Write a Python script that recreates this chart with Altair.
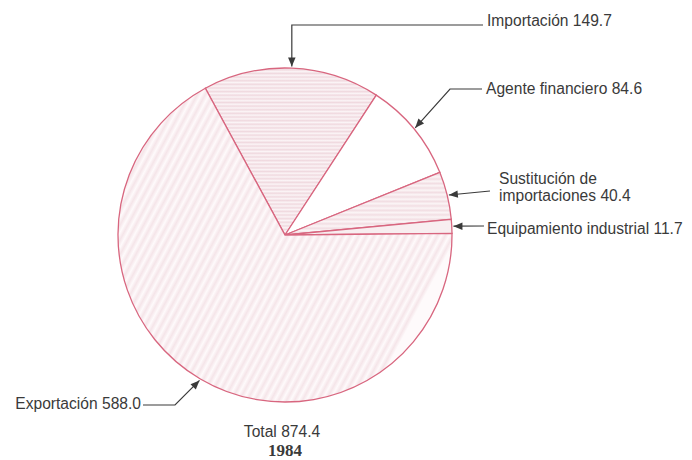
import math
import altair as alt
import pandas as pd

# ---- data ----
categories = ["Importación", "Agente financiero", "Sustitución de importaciones",
              "Equipamiento industrial", "Exportación"]
values = [149.7, 84.6, 40.4, 11.7, 588.0]
label_lines = [["Importación 149.7"], ["Agente financiero 84.6"],
               ["Sustitución de", "importaciones 40.4"],
               ["Equipamiento industrial 11.7"], ["Exportación 588.0"]]
total_label = "Total 874.4"
year_label = "1984"

# ---- style / layout ----
fills = ["#f4e4e8", "#ffffff", "#f5e8eb", "#f8eef0", "#f8eef0"]
stroke_col = "#d8667f"
ink = "#3a3a3a"
W, H = 676, 452
CX, CY = 277, 227          # pie centre inside the view (px)
R = 167                    # pie radius (px)
START_DEG = -28.5
OFF = 8                    # page margin
FS = 15.6


def stripes(n, c1, c2, x1, y1, x2, y2):
    stops = []
    for k in range(n):
        stops.append({"offset": k / n, "color": c1})
        stops.append({"offset": (k + 0.5) / n, "color": c2})
    stops.append({"offset": 1.0, "color": c1})
    return {"gradient": "linear", "stops": stops, "x1": x1, "y1": y1, "x2": x2, "y2": y2}


grad_exp = stripes(53, "#fefafb", "#f5e5e9", 0, 0, 1, 0.5)
grad_imp = stripes(46, "#fbf4f6", "#f0d9df", 0, 0, 0, 1)
grad_sus = stripes(14, "#fbf5f6", "#f2dee3", 0, 0, 0, 1)


def d(px, py):
    """page pixel -> data units"""
    return ((px - OFF - CX) / R, (CY - (py - OFF)) / R)


xdom = [-CX / R, (W - CX) / R]
ydom = [-(H - CY) / R, CY / R]
xs = alt.Scale(domain=xdom, nice=False, zero=False)
ys = alt.Scale(domain=ydom, nice=False, zero=False)

# elbows of leader lines (page px); None x -> same x as tip
elbows = [[(None, 25), (483, 25)],
          [(450, 89), (482, 89)],
          [(490, 191)],
          [(484, 226)],
          [(175, 405), (143, 405)]]
text_pos = [[(487, 26)], [(486, 94)], [(499, 184), (499, 201)],
            [(487, 234)], [(141, 409)]]
text_align = ["left", "left", "left", "left", "right"]

total = sum(values)
pie_df = pd.DataFrame({"cat": categories, "value": values,
                       "idx": list(range(len(values)))})

line_rows, arrow_rows, text_rows = [], [], []
cum = 0.0
for i, v in enumerate(values):
    mid = math.radians(START_DEG + 360.0 * (cum + v / 2) / total)
    cum += v
    tx, ty = 1.01 * math.sin(mid), 1.01 * math.cos(mid)
    pts = [(tx, ty)]
    for ex, ey in elbows[i]:
        if ex is None:
            pts.append((tx, d(0, ey)[1]))
        else:
            pts.append(d(ex, ey))
    for k, (x, y) in enumerate(pts):
        line_rows.append({"grp": i, "seq": k, "x": x, "y": y})
    ax, ay = pts[1]
    dx, dy = tx - ax, ty - ay
    n = math.hypot(dx, dy)
    ang = math.degrees(math.atan2(dx, dy)) % 360
    back = 5.0 / R
    arrow_rows.append({"x": tx - dx / n * back, "y": ty - dy / n * back, "angle": ang})
    for (px, py), t in zip(text_pos[i], label_lines[i]):
        x, y = d(px, py)
        text_rows.append({"x": x, "y": y, "text": t, "align": text_align[i]})

line_df = pd.DataFrame(line_rows)
arrow_df = pd.DataFrame(arrow_rows)
text_df = pd.DataFrame(text_rows)
tx0, ty0 = d(282, 437)
tx1, ty1 = d(285, 456)
foot_df = pd.DataFrame({"x": [tx0], "y": [ty0], "text": [total_label]})
year_df = pd.DataFrame({"x": [tx1], "y": [ty1], "text": [year_label]})

pie = alt.Chart(pie_df).mark_arc(radius=R, stroke=stroke_col, strokeWidth=1.3).encode(
    x=alt.XDatum(0, scale=xs, axis=None),
    y=alt.YDatum(0, scale=ys, axis=None),
    theta=alt.Theta("value:Q", stack=True,
                    scale=alt.Scale(range=[math.radians(START_DEG),
                                           math.radians(START_DEG) + 2 * math.pi])),
    order=alt.Order("idx:Q"),
    color=alt.Color("cat:N", scale=alt.Scale(domain=categories, range=fills), legend=None,
                    condition=[
                        {"test": "datum.cat === 'Exportación'", "value": grad_exp},
                        {"test": "datum.cat === 'Importación'", "value": grad_imp},
                        {"test": "datum.cat === 'Sustitución de importaciones'", "value": grad_sus},
                    ]),
)

lines = alt.Chart(line_df).mark_line(color=ink, strokeWidth=1.2).encode(
    x=alt.X("x:Q", scale=xs, axis=None),
    y=alt.Y("y:Q", scale=ys, axis=None),
    detail="grp:N",
    order="seq:Q",
)

arrows = alt.Chart(arrow_df).mark_point(
    shape="M0,-1L-0.75,0.8L0.75,0.8Z", filled=True, size=100, color=ink, opacity=1
).encode(
    x=alt.X("x:Q", scale=xs, axis=None),
    y=alt.Y("y:Q", scale=ys, axis=None),
    angle=alt.Angle("angle:Q", scale=None),
)


def text_layer(df, align, size=FS, font="Liberation Sans", weight="normal"):
    return alt.Chart(df).mark_text(align=align, baseline="alphabetic", font=font,
                                   fontSize=size, fontWeight=weight, color=ink).encode(
        x=alt.X("x:Q", scale=xs, axis=None),
        y=alt.Y("y:Q", scale=ys, axis=None),
        text="text:N",
    )


t_left = text_layer(text_df[text_df["align"] == "left"], "left")
t_right = text_layer(text_df[text_df["align"] == "right"], "right")
t_total = text_layer(foot_df, "center")
t_year = text_layer(year_df, "center", size=17, font="Liberation Serif", weight="bold")

chart = alt.layer(pie, lines, arrows, t_left, t_right, t_total, t_year).properties(
    width=W, height=H, autosize="none", padding=0
).configure_view(stroke=None)

chart.save("out.html", embed_options={"renderer": "svg", "actions": False})
